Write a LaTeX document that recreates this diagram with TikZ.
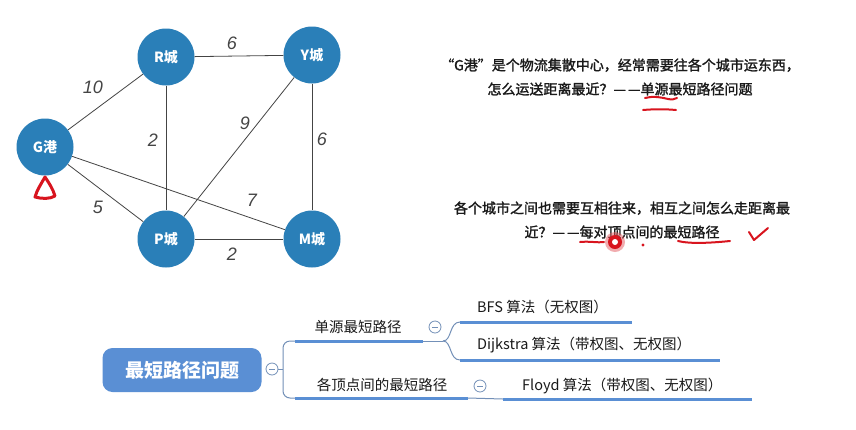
\documentclass[tikz,border=0pt]{standalone}
\usepackage{fontspec}
\setmainfont{Noto Sans CJK SC}
\newfontfamily\medfont{Noto Sans CJK SC}[FakeBold=1.6]
\newfontfamily\numfont{Liberation Sans}
\definecolor{nodeblue}{HTML}{2A7FB8}
\definecolor{mapblue}{HTML}{5A8FD4}
\definecolor{linkblue}{HTML}{7390B8}
\definecolor{edgegrey}{HTML}{444444}
\definecolor{txt}{HTML}{1A1A1A}
\definecolor{marker}{HTML}{D8141E}
\newcommand{\ddash}{—\hspace{2pt}—}
\tikzset{
  city/.style={circle, fill=nodeblue, minimum size=57pt, inner sep=0pt, text=white, font=\fontsize{14}{16}\selectfont\bfseries},
  road/.style={draw=edgegrey, line width=0.8pt},
  wt/.style={text=edgegrey, font=\numfont\itshape\fontsize{18}{20}\selectfont},
  para/.style={align=center, text=txt, font=\medfont\fontsize{14}{24}\selectfont},
  root/.style={rounded corners=10pt, fill=mapblue, text=white, minimum width=159pt, minimum height=44pt, font=\fontsize{19}{22}\selectfont\bfseries},
  branch/.style={text=txt, font=\fontsize{14.5}{16}\selectfont, inner sep=0pt},
  uline/.style={draw=mapblue, line width=3pt},
  link/.style={draw=linkblue, line width=1pt},
  fold/.style={circle, draw=linkblue, line width=0.8pt, minimum size=12pt, inner sep=0pt, fill=white},
  redpen/.style={draw=marker, line width=2.5pt, line cap=round, line join=round}
}
\begin{document}
\begin{tikzpicture}[x=1pt,y=-1pt]
\useasboundingbox[fill=white] (0,0) rectangle (856,429);
% graph
\node[city] (G) at (45,147) {G港};
\node[city] (R) at (166,57) {R城};
\node[city] (Y) at (312,55) {Y城};
\node[city] (P) at (166,239) {P城};
\node[city] (M) at (312,239) {M城};
\draw[road] (G) -- (R);
\draw[road] (R) -- (Y);
\draw[road] (R) -- (P);
\draw[road] (P) -- (Y);
\draw[road] (Y) -- (M);
\draw[road] (G) -- (M);
\draw[road] (G) -- (P);
\draw[road] (P) -- (M);
\node[wt] (w1) at (93,87) {10};
\node[wt] (w2) at (232,43) {6};
\node[wt] (w3) at (153,140) {2};
\node[wt] (w4) at (245,123) {9};
\node[wt] (w5) at (322,139) {6};
\node[wt] (w6) at (252,200) {7};
\node[wt] (w7) at (98,207) {5};
\node[wt] (w8) at (232,254) {2};
% red mark under G
\draw[redpen, line width=3pt] (45,177) .. controls (41,184) and (37,190) .. (35,197) .. controls (42,199) and (50,199) .. (55,196) .. controls (53,189) and (49,183) .. (45,177) -- cycle;
% texts
\node[para] (t1) at (620,77) {“G港”是个物流集散中心，经常需要往各个城市运东西，\\怎么运送距离最近？\ddash 单源最短路径问题};
\node[para] (t2) at (622,220) {各个城市之间也需要互相往来，相互之间怎么走距离最\\近？\ddash 每对顶点间的最短路径};
% red annotations
\draw[redpen, line width=2pt] (645,98) .. controls (652,96) and (660,97) .. (668,99) .. controls (672,100) and (675,99) .. (677,98);
\draw[redpen, line width=2pt] (643,110) .. controls (655,109) and (665,109) .. (676,110);
\draw[redpen, line width=2pt] (580,242) .. controls (590,241) and (598,243) .. (604,242);
\fill[marker!70, opacity=0.5] (615,242) circle (10);
\fill[marker] (615,242) circle (7);
\fill[white] (615,242) circle (3);
\fill[marker] (643,245) circle (1.6);
\draw[redpen, line width=2pt] (678,241) .. controls (690,244) and (710,243) .. (730,241);
\draw[redpen, line width=2pt] (749,232) -- (754,240) -- (768,228);
% mind map
\node[root] (root) at (182,370) {最短路径问题};
\node[fold] (f0) at (272,369) {};
\draw[linkblue, line width=0.8pt] ([xshift=-3pt]f0.center) -- ([xshift=3pt]f0.center);
\coordinate (b1s) at (295,341);
\coordinate (b1e) at (423,341);
\coordinate (b2s) at (295,398);
\coordinate (b2e) at (468,398);
\draw[link] (f0.east) -- (283,369);
\draw[link, rounded corners=7pt] (b1s) -- (283,341) -- (283,398) -- (b2s);
\draw[uline] (b1s) -- (b1e);
\draw[uline] (b2s) -- (b2e);
\node[branch] (n1) at (358,327) {单源最短路径};
\node[branch] (n2) at (382,385) {各顶点间的最短路径};
\node[fold] (f1) at (435,327) {};
\draw[linkblue, line width=0.8pt] ([xshift=-3pt]f1.center) -- ([xshift=3pt]f1.center);
\node[fold] (f2) at (480,386) {};
\draw[linkblue, line width=0.8pt] ([xshift=-3pt]f2.center) -- ([xshift=3pt]f2.center);
\coordinate (s1) at (460,322);
\coordinate (s1e) at (632,322);
\coordinate (s2) at (460,360);
\coordinate (s2e) at (720,360);
\coordinate (s3) at (503,399);
\coordinate (s3e) at (752,399);
\coordinate (fork) at (443,341);
\draw[link] (b1e) -- (fork);
\draw[link] (fork) .. controls (452,341) and (449,322) .. (s1);
\draw[link] (fork) .. controls (452,341) and (449,360) .. (s2);
\draw[link] (b2e) -- (s3);
\draw[uline] (s1) -- (s1e);
\draw[uline] (s2) -- (s2e);
\draw[uline] (s3) -- (s3e);
\node[branch, anchor=west] (c1) at (477,307) {BFS 算法（无权图）};
\node[branch, anchor=west] (c2) at (477,345) {Dijkstra 算法（带权图、无权图）};
\node[branch, anchor=west] (c3) at (522,386) {Floyd 算法（带权图、无权图）};
\end{tikzpicture}
\end{document}
